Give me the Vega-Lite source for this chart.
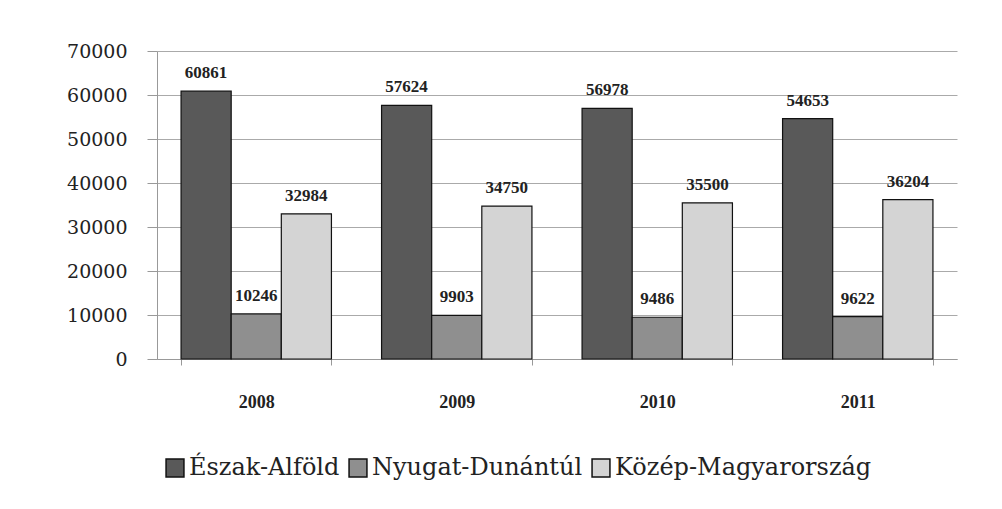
{
  "$schema": "https://vega.github.io/schema/vega-lite/v6.json",
  "width": 800,
  "height": 308,
  "padding": {"left": 66, "top": 42, "right": 40, "bottom": 10},
  "background": "white",
  "data": {
    "values": [
      {"year": "2008", "region": "Észak-Alföld", "value": 60861},
      {"year": "2008", "region": "Nyugat-Dunántúl", "value": 10246},
      {"year": "2008", "region": "Közép-Magyarország", "value": 32984},
      {"year": "2009", "region": "Észak-Alföld", "value": 57624},
      {"year": "2009", "region": "Nyugat-Dunántúl", "value": 9903},
      {"year": "2009", "region": "Közép-Magyarország", "value": 34750},
      {"year": "2010", "region": "Észak-Alföld", "value": 56978},
      {"year": "2010", "region": "Nyugat-Dunántúl", "value": 9486},
      {"year": "2010", "region": "Közép-Magyarország", "value": 35500},
      {"year": "2011", "region": "Észak-Alföld", "value": 54653},
      {"year": "2011", "region": "Nyugat-Dunántúl", "value": 9622},
      {"year": "2011", "region": "Közép-Magyarország", "value": 36204}
    ]
  },
  "encoding": {
    "x": {
      "field": "year", "type": "nominal", "title": null,
      "scale": {"paddingInner": 0.25, "paddingOuter": 0.12},
      "axis": {"labelAngle": 0, "labelFont": "Liberation Serif", "labelFontSize": 18, "labelFontWeight": "bold", "labelColor": "#222", "labelPadding": 28, "domainColor": "#999", "tickColor": "#999", "ticks": true, "tickBand": "extent", "tickSize": 6}
    },
    "xOffset": {"field": "region", "type": "nominal", "sort": ["Észak-Alföld", "Nyugat-Dunántúl", "Közép-Magyarország"]},
    "y": {
      "field": "value", "type": "quantitative", "title": null,
      "scale": {"domain": [0, 70000]},
      "axis": {"values": [0, 10000, 20000, 30000, 40000, 50000, 60000, 70000], "format": "d", "labelFont": "DejaVu Serif", "labelFontSize": 19, "labelColor": "#222", "labelPadding": 20, "domainColor": "#999", "tickColor": "#999", "tickSize": 10, "gridColor": "#aaa", "gridWidth": 1}
    }
  },
  "layer": [
    {
      "mark": {"type": "bar", "stroke": "#111", "strokeWidth": 1.2},
      "encoding": {
        "color": {
          "field": "region", "type": "nominal",
          "sort": ["Észak-Alföld", "Nyugat-Dunántúl", "Közép-Magyarország"],
          "scale": {"domain": ["Észak-Alföld", "Nyugat-Dunántúl", "Közép-Magyarország"], "range": ["#595959", "#8f8f8f", "#d4d4d4"]},
          "legend": {"title": null, "orient": "none", "legendX": 6, "legendY": 405, "direction": "horizontal", "labelFont": "DejaVu Serif", "labelFontSize": 24, "labelColor": "#222", "symbolType": "square", "symbolSize": 320, "symbolStrokeColor": "#111", "symbolStrokeWidth": 1.5, "columnPadding": 6, "labelOffset": 2, "labelLimit": 400}
        }
      }
    },
    {
      "mark": {"type": "text", "dy": -18, "font": "Liberation Serif", "fontSize": 17, "fontWeight": "bold", "color": "#222"},
      "encoding": {"text": {"field": "value", "type": "quantitative", "format": "d"}}
    }
  ],
  "config": {
    "view": {"stroke": null}
  }
}
